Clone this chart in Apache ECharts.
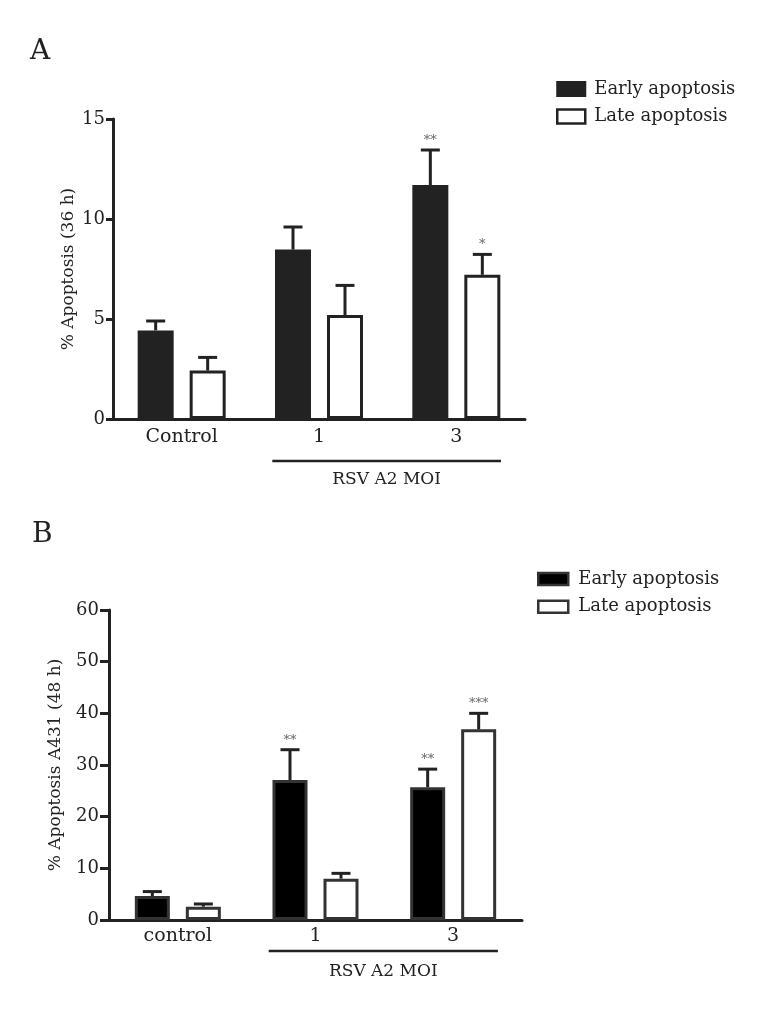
<!DOCTYPE html>
<html>
<head>
<meta charset="utf-8">
<script src="https://cdn.jsdelivr.net/npm/echarts@6/dist/echarts.min.js"></script>
<style>
html,body{margin:0;padding:0;background:#fff;}
#chart{width:768px;height:1016px;}
</style>
</head>
<body>
<div id="chart"></div>
<script>
// ---- Panel A data (36 h) ----
var catsA = ['Control', '1', '3'];
var earlyA = [4.43, 8.47, 11.7];
var lateA = [2.42, 5.2, 7.21];
var earlyErrA = [0.47, 1.13, 1.75];
var lateErrA = [0.66, 1.48, 1.02];
var earlySigA = ['', '', '**'];
var lateSigA = ['', '', '*'];
var yTicksA = [0, 5, 10, 15];

// ---- Panel B data (48 h, A431) ----
var catsB = ['control', '1', '3'];
var earlyB = [4.65, 27.1, 25.7];
var lateB = [2.58, 8.0, 36.9];
var earlyErrB = [0.85, 5.86, 3.5];
var lateErrB = [0.52, 1.03, 3.1];
var earlySigB = ['', '**', '**'];
var lateSigB = ['', '', '***'];
var yTicksB = [0, 10, 20, 30, 40, 50, 60];

var FONT = 'DejaVu Serif';
var INK = '#222';

var chart = echarts.init(document.getElementById('chart'), null, {renderer: 'canvas'});

function errData(vals, errs, sigs, s) {
  return vals.map(function (v, i) { return [i, v, v + errs[i], s, sigs[i]]; });
}

function errSeries(xi, data, barW, gapPx) {
  return {
    type: 'custom',
    xAxisIndex: xi, yAxisIndex: xi,
    z: 5,
    silent: true,
    data: data,
    encode: {x: 0, y: [1, 2]},
    renderItem: function (params, api) {
      var i = api.value(0);
      var s = api.value(3);
      var base = api.coord([i, api.value(1)]);
      var top = api.coord([i, api.value(2)]);
      var off = (barW + gapPx) / 2 * (s === 0 ? -1 : 1);
      var x = base[0] + off;
      var cap = 9.5;
      var children = [
        {type: 'line', shape: {x1: x, y1: base[1], x2: x, y2: top[1]}, style: {stroke: INK, lineWidth: 3}},
        {type: 'line', shape: {x1: x - cap, y1: top[1], x2: x + cap, y2: top[1]}, style: {stroke: INK, lineWidth: 3}}
      ];
      var sig = data[params.dataIndex][4];
      if (sig) {
        children.push({type: 'text', style: {text: sig, x: x, y: top[1] - 3, textAlign: 'center', textVerticalAlign: 'bottom', fill: '#666', font: '13px ' + FONT}});
      }
      return {type: 'group', children: children};
    }
  };
}

function bracketSeries(xi, yOff, textOff) {
  return {
    type: 'custom',
    xAxisIndex: xi, yAxisIndex: xi,
    silent: true,
    data: [[1, 2]],
    renderItem: function (params, api) {
      var p1 = api.coord([api.value(0), 0]);
      var p2 = api.coord([api.value(1), 0]);
      var bw = api.size([1, 0])[0];
      var x1 = p1[0] - bw * 0.34, x2 = p2[0] + bw * 0.325;
      var y = p1[1] + yOff;
      return {type: 'group', children: [
        {type: 'line', shape: {x1: x1, y1: y, x2: x2, y2: y}, style: {stroke: INK, lineWidth: 2.5}},
        {type: 'text', style: {text: 'RSV A2 MOI', x: (x1 + x2) / 2, y: p1[1] + textOff, textAlign: 'center', textVerticalAlign: 'middle', fill: INK, font: '17px ' + FONT}}
      ]};
    }
  };
}

function xAxisCfg(gi, cats, margin) {
  return {
    type: 'category', gridIndex: gi, data: cats,
    axisLine: {lineStyle: {color: INK, width: 3}},
    axisTick: {alignWithLabel: true, length: 7, lineStyle: {color: INK, width: 3}},
    axisLabel: {color: INK, fontFamily: FONT, fontSize: 19, margin: margin}
  };
}

function yAxisCfg(gi, ticks, name, gap, tickLen) {
  return {
    type: 'value', gridIndex: gi,
    min: ticks[0], max: ticks[ticks.length - 1], interval: ticks[1] - ticks[0],
    name: name, nameLocation: 'middle', nameGap: gap, nameMoveOverlap: false,
    nameTextStyle: {color: INK, fontFamily: FONT, fontSize: 17},
    splitLine: {show: false},
    axisLine: {show: true, lineStyle: {color: INK, width: 3}},
    axisTick: {show: true, length: tickLen, lineStyle: {color: INK, width: 3}},
    axisLabel: {color: INK, fontFamily: FONT, fontSize: 18, margin: tickLen + 1}
  };
}

var BW_A = 36, GAP_A = 16;
var BW_B = 35, GAP_B = 16;

var option = {
  animation: false,
  backgroundColor: '#fff',
  graphic: [
    {type: 'text', left: 30, top: 38, style: {text: 'A', font: '28px ' + FONT, fill: INK}},
    {type: 'text', left: 32, top: 521, style: {text: 'B', font: '28px ' + FONT, fill: INK}}
  ],
  legend: [
    {
      orient: 'vertical', left: 551, top: 75, itemWidth: 28, itemHeight: 14, itemGap: 9.4,
      textStyle: {fontFamily: FONT, fontSize: 18, lineHeight: 18, color: INK, padding: [0, 0, 0, 4]},
      data: [
        {name: 'Early apoptosis', icon: 'rect', itemStyle: {color: '#222', borderColor: '#222', borderWidth: 2}},
        {name: 'Late apoptosis', icon: 'rect', itemStyle: {color: '#fff', borderColor: '#222', borderWidth: 2.5}}
      ]
    },
    {
      orient: 'vertical', left: 532, top: 565, itemWidth: 30, itemHeight: 12, itemGap: 9.8,
      textStyle: {fontFamily: FONT, fontSize: 18, lineHeight: 18, color: INK, padding: [0, 0, 0, 5]},
      data: [
        {name: 'Early apoptosis', icon: 'rect', itemStyle: {color: '#000', borderColor: '#333', borderWidth: 2.5}},
        {name: 'Late apoptosis', icon: 'rect', itemStyle: {color: '#fff', borderColor: '#333', borderWidth: 2.5}}
      ]
    }
  ],
  grid: [
    {left: 113, top: 119, width: 412, height: 300},
    {left: 109, top: 610, width: 413, height: 310}
  ],
  xAxis: [xAxisCfg(0, catsA, 9), xAxisCfg(1, catsB, 7)],
  yAxis: [yAxisCfg(0, yTicksA, '% Apoptosis (36 h)', 36, 7), yAxisCfg(1, yTicksB, '% Apoptosis A431 (48 h)', 45, 9)],
  series: [
    {name: 'Early apoptosis', type: 'bar', xAxisIndex: 0, yAxisIndex: 0, data: earlyA, barWidth: BW_A, barGap: (GAP_A / BW_A * 100) + '%',
      itemStyle: {color: '#222', borderColor: '#222', borderWidth: 3}},
    {name: 'Late apoptosis', type: 'bar', xAxisIndex: 0, yAxisIndex: 0, data: lateA, barWidth: BW_A, barGap: (GAP_A / BW_A * 100) + '%',
      itemStyle: {color: '#fff', borderColor: '#222', borderWidth: 3}},
    errSeries(0, errData(earlyA, earlyErrA, earlySigA, 0), BW_A, GAP_A),
    errSeries(0, errData(lateA, lateErrA, lateSigA, 1), BW_A, GAP_A),
    bracketSeries(0, 42, 61),
    {name: 'Early apoptosis', type: 'bar', xAxisIndex: 1, yAxisIndex: 1, data: earlyB, barWidth: BW_B, barGap: (GAP_B / BW_B * 100) + '%',
      itemStyle: {color: '#000', borderColor: '#333', borderWidth: 3}},
    {name: 'Late apoptosis', type: 'bar', xAxisIndex: 1, yAxisIndex: 1, data: lateB, barWidth: BW_B, barGap: (GAP_B / BW_B * 100) + '%',
      itemStyle: {color: '#fff', borderColor: '#333', borderWidth: 3}},
    errSeries(1, errData(earlyB, earlyErrB, earlySigB, 0), BW_B, GAP_B),
    errSeries(1, errData(lateB, lateErrB, lateSigB, 1), BW_B, GAP_B),
    bracketSeries(1, 31, 52)
  ]
};
chart.setOption(option);
</script>
</body>
</html>
